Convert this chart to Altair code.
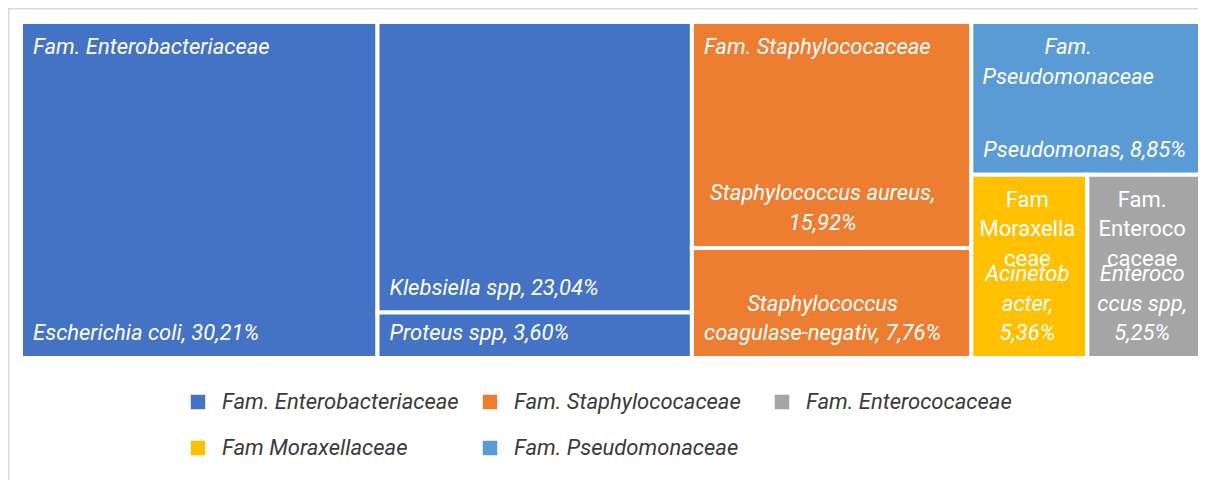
import altair as alt
import pandas as pd

# ---- data ----
species = ["Escherichia coli", "Klebsiella spp", "Proteus spp",
           "Staphylococcus aureus", "Staphylococcus coagulase-negativ",
           "Pseudomonas", "Acinetobacter", "Enterococcus spp"]
values = [30.21, 23.04, 3.60, 15.92, 7.76, 8.85, 5.36, 5.25]
family = ["Fam. Enterobacteriaceae", "Fam. Enterobacteriaceae", "Fam. Enterobacteriaceae",
          "Fam. Staphylococaceae", "Fam. Staphylococaceae",
          "Fam. Pseudomonaceae", "Fam Moraxellaceae", "Fam. Enterococaceae"]
# wrapped display names (as wrapped in the picture)
species_wrapped = ["Escherichia coli", "Klebsiella spp", "Proteus spp",
                   "Staphylococcus aureus", "Staphylococcus\ncoagulase-negativ",
                   "Pseudomonas", "Acinetob\nacter", "Enteroco\nccus spp"]
value_sep = [", ", ", ", ", ", ",\n", ", ", ", ", ",\n", ",\n"]
# legend is filled column by column (2 rows x 3 columns)
legend_order = ["Fam. Enterobacteriaceae", "Fam Moraxellaceae", "Fam. Staphylococaceae",
                "Fam. Pseudomonaceae", "Fam. Enterococaceae"]
legend_colors = ["#4472C4", "#FFC000", "#ED7D31", "#5B9BD5", "#A5A5A5"]
family_wrapped = {"Fam. Enterobacteriaceae": "Fam. Enterobacteriaceae",
                  "Fam. Staphylococaceae": "Fam. Staphylococaceae",
                  "Fam. Pseudomonaceae": "Fam.\nPseudomonaceae",
                  "Fam Moraxellaceae": "Fam\nMoraxella\nceae",
                  "Fam. Enterococaceae": "Fam.\nEnteroco\ncaceae"}
# treemap grouping (slice & dice): columns, then rows, then columns
tree = [[0], [1, 2], [3, 4], [5, [6, 7]]]

# ---- slice-and-dice layout in unit space [0,100] ----
def total(node):
    return values[node] if isinstance(node, int) else sum(total(c) for c in node)

rects = {}
def layout(node, x0, y0, x1, y1, horiz):
    if isinstance(node, int):
        rects[node] = (x0, y0, x1, y1)
        return
    t = total(node)
    pos = x0 if horiz else y0
    for c in node:
        f = total(c) / t
        if horiz:
            nx = pos + f * (x1 - x0)
            layout(c, pos, y0, nx, y1, not horiz)
            pos = nx
        else:
            ny = pos + f * (y1 - y0)
            layout(c, x0, pos, x1, ny, not horiz)
            pos = ny

layout(tree, 0, 0, 100, 100, True)

def fmt(v):
    return f"{v:.2f}%".replace(".", ",")

rows = []
seen = set()
for i, s in enumerate(species):
    x0, y0, x1, y1 = rects[i]
    fam = family[i]
    first = fam not in seen
    seen.add(fam)
    item = species_wrapped[i] + value_sep[i] + fmt(values[i])
    rows.append(dict(species=s, value=values[i], family=fam,
                     x0=x0, x1=x1, y0=y0, y1=y1, xc=(x0 + x1) / 2,
                     item=item, nlines=item.count("\n") + 1,
                     famlabel=family_wrapped[fam] if first else ""))
df = pd.DataFrame(rows)

xs = alt.Scale(domain=[0, 100], range=[13, 1193], nice=False, zero=False)
ys = alt.Scale(domain=[0, 100], range=[14, 350], nice=False, zero=False)

FONT = "Roboto"
FS = 22
LH = 29.5

base = alt.Chart(df)

cells = base.mark_rect(stroke="white", strokeWidth=4).encode(
    x=alt.X("x0:Q", scale=xs, axis=None),
    x2="x1:Q",
    y=alt.Y("y0:Q", scale=ys, axis=None),
    y2="y1:Q",
    color=alt.Color("family:N",
                    scale=alt.Scale(domain=legend_order, range=legend_colors),
                    legend=alt.Legend(title=None, orient="none", legendX=179, legendY=383,
                                      columns=3, gridAlign="all", columnPadding=20,
                                      rowPadding=24, symbolType="square", symbolSize=210,
                                      symbolStrokeWidth=0, labelOffset=13,
                                      labelFont=FONT, labelFontSize=FS,
                                      labelFontStyle="italic", labelColor="#3a3a3a",
                                      labelLimit=400, padding=0)),
)

def txt(filter_expr, xfield, yfield, align, baseline, italic, dx, dy):
    kw = dict(align=align, baseline=baseline, font=FONT, fontSize=FS, color="white",
              lineBreak="\n", lineHeight=LH, dx=dx, dy=dy)
    if italic:
        kw["fontStyle"] = "italic"
    return base.transform_filter(filter_expr).mark_text(**kw).encode(
        x=alt.X(f"{xfield}:Q", scale=xs, axis=None),
        y=alt.Y(f"{yfield}:Q", scale=ys, axis=None),
    )

TOP_DY = 15
BOT_DY = -13
left_items = "['Escherichia coli','Klebsiella spp','Proteus spp','Pseudomonas']"

fam_left = txt("datum.famlabel != '' && (datum.family == 'Fam. Enterobacteriaceae' || datum.family == 'Fam. Staphylococaceae')",
               "x0", "y0", "left", "top", True, 12, TOP_DY).encode(text="famlabel:N")
fam_pseudo = txt("datum.famlabel != '' && datum.family == 'Fam. Pseudomonaceae'",
                 "xc", "y0", "center", "top", True, -18, TOP_DY).encode(text="famlabel:N")
fam_small = txt("datum.famlabel != '' && (datum.family == 'Fam Moraxellaceae' || datum.family == 'Fam. Enterococaceae')",
                "xc", "y0", "center", "top", False, -2, TOP_DY).encode(text="famlabel:N")
item_left = txt(f"indexof({left_items}, datum.species) >= 0",
                "x0", "y1", "left", "bottom", True, 12, BOT_DY).encode(text="item:N")
item_c2 = txt(f"indexof({left_items}, datum.species) < 0 && datum.nlines == 2",
              "xc", "y1", "center", "bottom", True, -9, BOT_DY - LH).encode(text="item:N")
item_c3 = txt(f"indexof({left_items}, datum.species) < 0 && datum.nlines == 3",
              "xc", "y1", "center", "bottom", True, -2, BOT_DY - 2 * LH).encode(text="item:N")

frame_data = alt.Chart(pd.DataFrame({"a": [0]}))
top_rule = frame_data.mark_rule(color="#d9d9d9", strokeWidth=1.5).encode(
    x=alt.value(0), x2=alt.value(1190), y=alt.value(0.75))
left_rule = frame_data.mark_rule(color="#d9d9d9", strokeWidth=1.5).encode(
    x=alt.value(0.75), y=alt.value(0), y2=alt.value(472))

chart = alt.layer(cells, fam_left, fam_pseudo, fam_small, item_left, item_c2, item_c3,
                  top_rule, left_rule).properties(
    width=1190, height=472, autosize=alt.AutoSizeParams(type="none"), padding=0,
    background="white"
).configure_view(stroke=None)

chart.save("out.html", embed_options={"renderer": "svg", "actions": False})
